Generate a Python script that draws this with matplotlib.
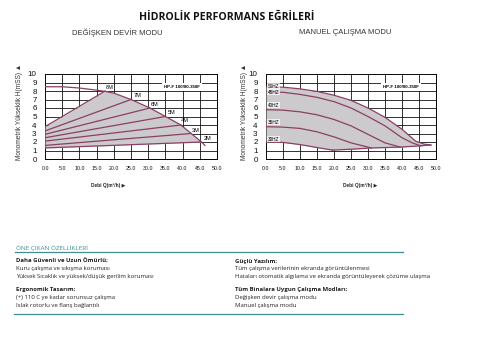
import numpy as np
import matplotlib
matplotlib.use("Agg")
import matplotlib.pyplot as plt

# ---- Variable speed mode (constant pressure lines) ----
max_q = [0, 5, 10, 15, 17.5, 20, 25, 30.5, 35, 39.5, 42.5, 45.5, 46.5]
max_h = [8.5, 8.5, 8.35, 8.1, 7.95, 7.75, 7.0, 6.0, 5.0, 4.0, 3.0, 2.0, 1.6]

m_names = ["8M", "7M", "6M", "5M", "4M", "3M", "2M"]
m_heads = [8, 7, 6, 5, 4, 3, 2]
m_start = [3.8, 3.3, 2.9, 2.5, 2.1, 1.6, 1.3]
m_end_q = [17.5, 25, 30.5, 35, 39.5, 42.5, 45.5]
m_label_q = [18.8, 27.0, 32.0, 36.8, 40.7, 43.7, 47.3]
m_label_h = [8.45, 7.5, 6.4, 5.5, 4.5, 3.4, 2.4]

# ---- Manual mode (fixed frequency curves) ----
hz_names = ["50HZ", "45HZ", "40HZ", "35HZ", "30HZ"]
hz_q = [
    [0, 5, 10, 15, 20, 25, 30, 35, 40, 44, 46.5, 48.5],
    [0, 5, 10, 15, 20, 25, 30, 35, 40, 43, 45.5],
    [0, 5, 10, 15, 20, 25, 30, 35, 39.5],
    [0, 5, 10, 15, 20, 25, 31],
    [0, 5, 10, 15, 19.5],
]
hz_h = [
    [8.5, 8.45, 8.25, 7.95, 7.5, 6.9, 6.0, 4.9, 3.5, 2.1, 1.75, 1.65],
    [7.9, 7.85, 7.6, 7.25, 6.75, 6.0, 5.0, 3.9, 2.5, 1.9, 1.55],
    [5.8, 5.75, 5.55, 5.2, 4.65, 3.9, 2.9, 1.9, 1.4],
    [3.8, 3.75, 3.6, 3.2, 2.6, 1.9, 1.3],
    [2.0, 1.95, 1.7, 1.35, 1.05],
]
hz_label_h = [8.55, 7.85, 6.35, 4.35, 2.35]
min_q = [19.5, 25, 31, 39.5, 45.5, 48.5]
min_h = [1.05, 1.15, 1.3, 1.4, 1.55, 1.65]

model = "HP-F 100/80-350F"
x_ticks = np.arange(0, 55, 5)
y_ticks = np.arange(0, 11, 1)

features = [
    ("Daha Güvenli ve Uzun Ömürlü;",
     ["Kuru çalışma ve sıkışma koruması",
      "Yüksek Sıcaklık ve yüksek/düşük gerilim koruması"]),
    ("Ergonomik Tasarım;",
     ["(+) 110 C ye kadar sorunsuz çalışma",
      "Islak rotorlu ve flanş bağlantılı"]),
    ("Güçlü Yazılım;",
     ["Tüm çalışma verilerinin ekranda görüntülenmesi",
      "Hataları otomatik algılama ve ekranda görüntüleyerek çözüme ulaşma"]),
    ("Tüm Binalara Uygun Çalışma Modları;",
     ["Değişken devir çalışma modu",
      "Manuel çalışma modu"]),
]

CURVE = "#8a3f63"
FILL = "#cdcacd"
TEAL = "#3d8f92"
W, H = 480, 337
BODY = ["Open Sans", "DejaVu Sans"]
PLAIN = ["Liberation Sans", "DejaVu Sans"]


def fx(px):
    return px / W


def fy(py):
    return 1 - py / H


def setup_axes(ax):
    ax.set_xlim(0, 50)
    ax.set_ylim(0, 10)
    ax.set_xticks(x_ticks)
    ax.set_yticks(y_ticks)
    ax.set_xticklabels([f"{v:.1f}" for v in x_ticks], fontsize=3.8, family=PLAIN)
    ax.set_yticklabels([str(v) for v in y_ticks], fontsize=5.8, family=PLAIN)
    ax.tick_params(length=0, pad=5, colors="#111111")
    ax.tick_params(axis="y", pad=6)
    ax.grid(True, color="#111111", lw=0.6)
    ax.set_axisbelow(False)
    for s in ax.spines.values():
        s.set_linewidth(0.7)
    ax.text(39.8, 8.5, model, fontsize=3.2, fontweight="bold", ha="center",
            va="center", family=PLAIN, zorder=6,
            bbox=dict(fc="white", ec="none", pad=1.5))


fig = plt.figure(figsize=(4.8, 3.37), dpi=100)

# left chart
ax1 = fig.add_axes([fx(45), fy(159), fx(217) - fx(45), fy(74) - fy(159)])
setup_axes(ax1)

xs = np.linspace(0, m_end_q[-1], 400)
line8 = m_start[0] + (m_heads[0] - m_start[0]) / m_end_q[0] * xs
top = np.minimum(line8, np.interp(xs, max_q, max_h))
bottom = m_start[-1] + (m_heads[-1] - m_start[-1]) / m_end_q[-1] * xs
ax1.fill_between(xs, bottom, top, color=FILL, lw=0, zorder=3)

ax1.plot(max_q, max_h, color=CURVE, lw=0.9, zorder=4)
for name, hd, h0, q1, lq, lh in zip(m_names, m_heads, m_start, m_end_q, m_label_q, m_label_h):
    ax1.plot([0, q1], [h0, hd], color=CURVE, lw=0.9, zorder=4)
    ax1.text(lq, lh, name, fontsize=4, ha="center", va="center", family=PLAIN, zorder=6)

# right chart
ax2 = fig.add_axes([fx(266), fy(159), fx(436) - fx(266), fy(74) - fy(159)])
setup_axes(ax2)

xs2 = np.linspace(0, hz_q[0][-1], 400)
low_q = hz_q[-1] + min_q[1:]
low_h = hz_h[-1] + min_h[1:]
ax2.fill_between(xs2, np.interp(xs2, low_q, low_h), np.interp(xs2, hz_q[0], hz_h[0]),
                 color=FILL, lw=0, zorder=3)
for qs, hs in zip(hz_q, hz_h):
    ax2.plot(qs, hs, color=CURVE, lw=0.9, zorder=4)
ax2.plot(min_q, min_h, color=CURVE, lw=0.9, zorder=4)
for name, lh in zip(hz_names, hz_label_h):
    ax2.text(0.6, lh, name, fontsize=3.4, ha="left", va="center", family=PLAIN,
             zorder=6, bbox=dict(fc="white", ec="none", pad=0.4, alpha=0.7))

# axis titles
ylab = "Monometrik Yükseklik H(mSS) ▲"
xlab = "Debi Q(m³/h) ▶"
for x_ylab, x_xlab in [(20, 108), (245, 360)]:
    fig.text(fx(x_ylab), fy(112), ylab, rotation=90, fontsize=4.7, ha="center",
             va="center", color="#333333", family=PLAIN)
    fig.text(fx(x_xlab), fy(186), xlab, fontsize=3.4, fontweight="bold", ha="center",
             va="center", color="#222222", family=PLAIN)

# headings
fig.text(fx(227), fy(17), "HİDROLİK PERFORMANS EĞRİLERİ", fontsize=7.6, fontweight="bold",
         ha="center", va="center", family=BODY, color="#111111")
fig.text(fx(117), fy(33), "DEĞİŞKEN DEVİR MODU", fontsize=5.5, ha="center", va="center",
         family=PLAIN, color="#333333")
fig.text(fx(345), fy(33), "MANUEL ÇALIŞMA MODU", fontsize=5.5, ha="center", va="center",
         family=PLAIN, color="#333333")

# features block
fig.text(fx(16), fy(248), "ÖNE ÇIKAN ÖZELLİKLERİ", fontsize=4.6, color=TEAL,
         ha="left", va="center", family=BODY)
fig.add_artist(plt.Line2D([fx(15), fx(403)], [fy(252), fy(252)], color=TEAL, lw=0.9))
fig.add_artist(plt.Line2D([fx(14), fx(403)], [fy(314), fy(314)], color=TEAL, lw=0.9))

positions = [(16, 261), (16, 290), (235, 261), (235, 290)]
for (head, lines), (px, py) in zip(features, positions):
    fig.text(fx(px), fy(py), head, fontsize=4.3, fontweight="bold", ha="left",
             va="center", family=BODY, color="#222222")
    for i, ln in enumerate(lines):
        fig.text(fx(px), fy(py + 7.8 * (i + 1)), ln, fontsize=4.3, ha="left",
                 va="center", family=BODY, color="#222222")

fig.savefig("out.png", dpi=100)
